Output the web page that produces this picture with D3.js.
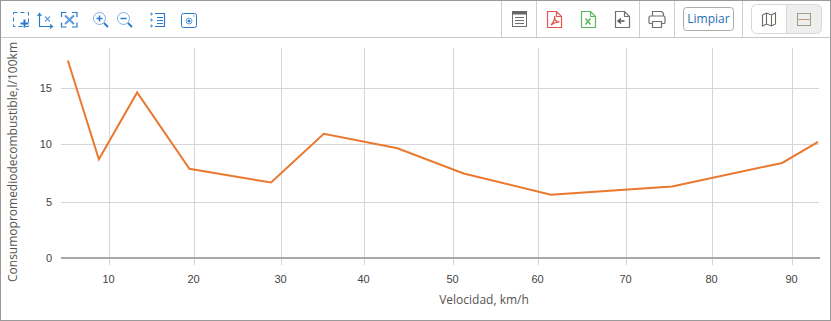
<!DOCTYPE html>
<html>
<head>
<meta charset="utf-8">
<script src="https://cdn.jsdelivr.net/npm/d3@7"></script>
<style>
  html, body { margin: 0; padding: 0; background: #fff; overflow: hidden; }
  svg { display: block; }
  .tick text { font-family: "Liberation Sans", Arial, sans-serif; font-size: 11px; fill: #444; }
  .title { font-family: "Open Sans", sans-serif; font-size: 12px; fill: #555; }
</style>
</head>
<body>
<svg id="chart" width="831" height="321"></svg>
<script>
// Values
var speed = [5.1, 8.75, 13.25, 19.4, 28.8, 35.1, 43.7, 51.2, 61.4, 75.3, 88.7, 93.2];
var consumption = [17.5, 8.73, 14.65, 7.9, 6.72, 10.95, 9.68, 7.5, 5.67, 6.38, 8.41, 10.23];
var xTicks = [10, 20, 30, 40, 50, 60, 70, 80, 90];
var yTicks = [0, 5, 10, 15];
var xTitle = "Velocidad, km/h";
var yTitle = "Consumopromediodecombustible,l/100km";
var clearLabel = "Limpiar";

var svg = d3.select("#chart");

// The source axis is not quite even, so the scales carry one stop per tick
var x = d3.scaleLinear()
    .domain(xTicks)
    .range([109.5, 194.5, 281.5, 364.5, 453.5, 538.5, 626.5, 712.5, 792.5]);
var y = d3.scaleLinear()
    .domain(yTicks)
    .range([258.5, 202.5, 144.5, 88.5]);

var plotLeft = 61, plotRight = 820, plotTop = 48, tickEnd = 265;

// Grid lines
var yAxis = d3.axisLeft(y)
    .tickValues(yTicks)
    .tickSize(0)
    .tickPadding(9)
    .offset(0);
var yG = svg.append("g")
    .attr("transform", "translate(" + plotLeft + ",0)")
    .call(yAxis);
yG.select(".domain").remove();
yG.selectAll(".tick line")
    .attr("x2", plotRight - 1 - plotLeft)
    .attr("stroke", "#d6d6d6");

var xAxis = d3.axisBottom(x)
    .tickValues(xTicks)
    .tickSize(0)
    .tickPadding(0)
    .offset(0);
var xG = svg.append("g")
    .attr("transform", "translate(0," + tickEnd + ")")
    .call(xAxis);
xG.select(".domain").remove();
xG.selectAll(".tick line")
    .attr("y2", plotTop - tickEnd)
    .attr("stroke", "#d6d6d6");
xG.selectAll(".tick text").attr("dy", "0").attr("y", 18).attr("x", -1);

// Zero line
svg.append("line")
    .attr("x1", plotLeft).attr("x2", plotRight)
    .attr("y1", 258).attr("y2", 258)
    .attr("stroke", "#a8a8a8")
    .attr("stroke-width", 2);

// Series
var line = d3.line()
    .x(function (d, i) { return x(speed[i]); })
    .y(function (d) { return y(d); });

svg.append("path")
    .datum(consumption)
    .attr("d", line)
    .attr("fill", "none")
    .attr("stroke", "#e8792e")
    .attr("stroke-width", 2);

// Axis titles
svg.append("text")
    .attr("class", "title")
    .attr("x", 484).attr("y", 304)
    .attr("text-anchor", "middle")
    .text(xTitle);
svg.append("text")
    .attr("class", "title")
    .attr("transform", "translate(17,162) rotate(-90)")
    .attr("text-anchor", "middle")
    .text(yTitle);

// Toolbar separators and frame
var bar = svg.append("g").attr("fill", "none");
bar.append("line").attr("x1", 1).attr("x2", 830).attr("y1", 37.5).attr("y2", 37.5).attr("stroke", "#c8c8c8");
[501.5, 536.5, 639.5, 674.5, 742.5].forEach(function (sx) {
  bar.append("line").attr("x1", sx).attr("x2", sx).attr("y1", 1).attr("y2", 37).attr("stroke", "#cfcfcf");
});
svg.append("rect")
    .attr("x", 0.5).attr("y", 0.5).attr("width", 830).attr("height", 320)
    .attr("fill", "none").attr("stroke", "#999");

// Small helper for the toolbar icons
function icon(d, color, w) {
  bar.append("path").attr("d", d).attr("stroke", color).attr("stroke-width", w || 1.2);
}
var blue = "#2b7bcb", grey = "#707070";

// select area
bar.append("rect").attr("x", 13.5).attr("y", 12.5).attr("width", 15).attr("height", 14)
    .attr("stroke", blue).attr("stroke-dasharray", "4 3");
icon("M24.5 19.5v8M20.5 23.5h8", blue, 2);
// axis zoom
icon("M39.5 14v12.5H52M37.5 16l2-2.500 2 2.500M50 24.500l2.500 2-2.500 2", blue);
icon("M45 16.500l5 5M50 16.500l-5 5", "#6ba4dc", 1.4);
// fit
icon("M61.500 17v-4.500h5M72 12.500h5v4.500M77 22.500v4.500h-5M66.500 27h-5v-4.500", blue);
icon("M65 15.500l9 8.500M74 15.500l-9 8.500", "#5d9ad8", 2);
// zoom in, zoom out
bar.append("circle").attr("cx", 99.5).attr("cy", 18.5).attr("r", 6).attr("stroke", "#7fb0e2");
icon("M96.500 18.500h6M99.500 15.500v6", blue, 1.5);
icon("M104 23l4 4", blue, 2);
bar.append("circle").attr("cx", 123.5).attr("cy", 18.5).attr("r", 6).attr("stroke", "#7fb0e2");
icon("M120.500 18.500h6", blue, 1.5);
icon("M128 23l4 4", blue, 2);
// list
icon("M155 13.500h9.500v13h-9.500M157 17.500h6M157 20.500h6M157 23.500h6", blue);
icon("M150 14h3M150 20h3M150 26h3M151.500 12.500v3M151.500 18.500v3M151.500 24.500v3", "#5d9ad8", 1);
// camera
bar.append("rect").attr("x", 181.5).attr("y", 13.5).attr("width", 15).attr("height", 14).attr("rx", 2).attr("stroke", blue);
bar.append("circle").attr("cx", 189).attr("cy", 21).attr("r", 3).attr("stroke", "#6ba4dc");
bar.append("circle").attr("cx", 189).attr("cy", 21).attr("r", 1.5).attr("fill", blue);
bar.append("circle").attr("cx", 194).attr("cy", 16).attr("r", 0.8).attr("fill", "#6ba4dc");

// table view
bar.append("rect").attr("x", 512.5).attr("y", 11.5).attr("width", 14).attr("height", 15).attr("stroke", grey);
bar.append("rect").attr("x", 512).attr("y", 11).attr("width", 15).attr("height", 3.500).attr("fill", "#666");
icon("M515 17.500h9M515 20.500h9M515 23.500h9", grey, 1);
// files with a folded corner
function fileIcon(fx, color) {
  icon("M" + fx + " 11.500h9l5 5v11h-14zM" + (fx + 9) + " 11.500v5h5", color);
}
fileIcon(547.5, "#e4574f");
icon("M551 25c3-3 4-6 3.500-9c0 4 2 6 5 6c-3 0-6 1-8.500 3z", "#e4574f", 1.2);
fileIcon(581.5, "#5cb85c");
icon("M585.500 18.500l5 6M590.500 18.500l-5 6", "#5cb85c", 1.5);
fileIcon(615.5, grey);
icon("M624.500 21h-6M621 18.500l-3 2.500 3 2.500", "#555", 1.500);
// printer
icon("M652.500 16v-4.500h9l2 2v2.500M652.500 23.500h-2.500a1 1 0 0 1-1-1v-5a1.500 1.500 0 0 1 1.500-1.500h13a1.500 1.500 0 0 1 1.500 1.500v5a1 1 0 0 1-1 1h-2.500M652.500 21.500h9v6h-9z", grey, 1.2);

// clear button
bar.append("rect").attr("x", 683.5).attr("y", 7.5).attr("width", 50).attr("height", 23).attr("rx", 3).attr("stroke", "#aaa");
svg.append("text")
    .attr("x", 708.5).attr("y", 23)
    .attr("text-anchor", "middle")
    .style("font-family", "Open Sans, sans-serif")
    .style("font-size", "12px")
    .attr("fill", "#1f6fb5")
    .text(clearLabel);

// map / layout toggle
bar.append("path").attr("d", "M786.500 4.500h30a5 5 0 0 1 5 5v19a5 5 0 0 1-5 5h-30z").attr("fill", "#eeeeee");
bar.append("rect").attr("x", 751.5).attr("y", 4.5).attr("width", 70).attr("height", 29).attr("rx", 5).attr("stroke", "#d8d8d8");
bar.append("line").attr("x1", 786.5).attr("x2", 786.5).attr("y1", 5).attr("y2", 33).attr("stroke", "#d8d8d8");
icon("M762.500 15l4-2 5 2 4-2v11l-4 2-5-2-4 2zM766.500 13v11M771.500 15v11", "#6b6b5f", 1.1);
bar.append("rect").attr("x", 797.5).attr("y", 13.5).attr("width", 13).attr("height", 12).attr("stroke", "#93a58a");
icon("M797.500 19.500h13", "#c09a70", 1);
</script>
</body>
</html>
